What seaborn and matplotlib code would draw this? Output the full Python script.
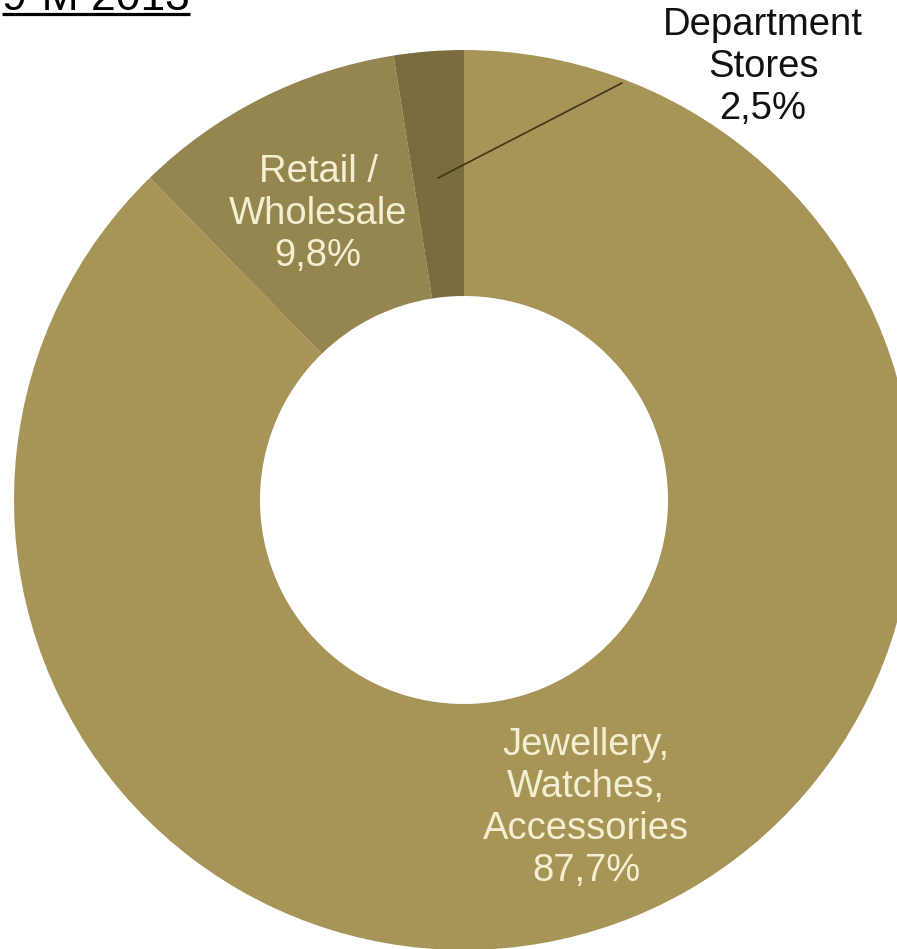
import matplotlib
matplotlib.use("Agg")
import matplotlib.pyplot as plt
import seaborn as sns

# data
segments = ["Jewellery,\nWatches,\nAccessories", "Retail /\nWholesale", "Department\nStores"]
shares = [87.7, 9.8, 2.5]
share_labels = ["87,7%", "9,8%", "2,5%"]
colors = ["#A69556", "#958650", "#7A6C3E"]
title = "9-M 2013"

sns.set_theme(style="white")
plt.rcParams["font.family"] = ["Liberation Sans", "DejaVu Sans"]

W, H = 897, 949
fig = plt.figure(figsize=(W / 100, H / 100), dpi=100)
ax = fig.add_axes([0, 0, 1, 1])
ax.axis("off")

cx, cy = 464, H - 500
wedges, _ = ax.pie(shares, colors=colors, startangle=90, counterclock=False,
                   center=(cx, cy), radius=450,
                   wedgeprops=dict(width=246, linewidth=0))
ax.set_xlim(0, W)
ax.set_ylim(0, H)
ax.set_aspect("equal")

cream = "#F5EFD2"
ax.text(586, H - 808, segments[0] + "\n" + share_labels[0], color=cream,
        fontsize=27.5, ha="center", va="center", linespacing=1.22)
ax.text(318, H - 214, segments[1] + "\n" + share_labels[1], color=cream,
        fontsize=27.5, ha="center", va="center", linespacing=1.2)
ax.text(763, H - 67, segments[2] + "\n" + share_labels[2], color="#111111",
        fontsize=27.5, ha="center", va="center", linespacing=1.2)

# leader line for the small slice
ax.plot([438, 622], [H - 178, H - 83], color="#3E3418", lw=1.2)

# title, mostly cropped off the top
ax.text(2, H - 10, title, fontsize=32, color="black", ha="left", va="baseline")
ax.plot([2, 190], [H - 14, H - 14], color="black", lw=2.3, solid_capstyle="butt")

fig.savefig("out.png", dpi=100)
